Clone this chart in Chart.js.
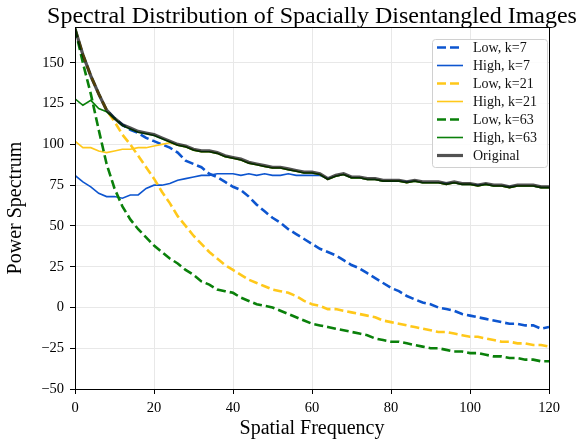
<!DOCTYPE html>
<html>
<head>
<meta charset="utf-8">
<script src="https://cdn.jsdelivr.net/npm/chart.js@4"></script>
<style>
  html, body { margin: 0; padding: 0; background: #fff; }
  #wrap { width: 578px; height: 441px; }
</style>
</head>
<body>
<div id="wrap"><canvas id="chart" width="578" height="441"></canvas></div>
<script>
// spatial frequency samples
const freqs = [0,2,4,6,8,10,12,14,16,18,20,22,24,26,28,30,32,34,36,38,40,
  42,44,46,48,50,52,54,56,58,60,62,64,66,68,70,72,74,76,78,80,
  82,84,86,88,90,92,94,96,98,100,102,104,106,108,110,112,114,116,118,120];

const lowK7 = [171,155,142,131,121,116,112,109,107,104,102,100,98,95,90,88,86,82,80,77,74,
  72,68,63,59,55,52,48,45,42,39,36,34,32,29,26,24,21,18,15,12,
  10,7,5,3,2,0,-1,-2,-4,-5,-6,-7,-8,-9,-10,-10,-11,-11,-13,-12];
const highK7 = [81,77,74,70,68,68,67,69,69,73,75,75,76,78,79,80,81,81,82,82,82,
  81,82,81,82,81,81,82,81,81,81,81,79,80.5,81.5,79.5,79.5,78.5,78.5,77.5,77.5,
  77.5,77,77.5,76.5,76.5,76.5,76,76.5,75.5,75.5,75,75.5,74.5,74.5,74,74.5,74.5,74.5,73.5,73.5];
const lowK21 = [171,155,142,131,121,114,106,100,93,86,79,71,64,56,50,44,39,34,30,26,23,
  20,17,15,13,11,10,9,7,4,2,1,-1,-1,-2,-3,-4,-5,-6,-8,-9,
  -10,-11,-12,-13,-14,-15,-15,-16,-17,-18,-18,-19,-20,-21,-21,-22,-22,-23,-23,-24];
const highK21 = [102,98,98,96,95,96,97,97,98,98,99,100,101,99.5,98.5,96.5,95.5,95.5,94.5,92.5,91.5,
  90.5,88.5,87.5,86.5,85.5,85.5,84.5,83.5,82.5,82.5,81.5,78.5,80.5,81.5,79.5,79.5,78.5,78.5,77.5,77.5,
  77.5,76.5,77.5,76.5,76.5,76.5,75.5,76.5,75.5,75.5,74.5,75.5,74.5,74.5,73.5,74.5,74.5,74.5,73.5,73.5];
const lowK63 = [171,150,131,109,88,73,62,54,48,43,38,34,30,27,23,20,16,14,11,10,9,
  6,4,2,1,0,-2,-4,-6,-8,-10,-11,-12,-13,-14,-15,-16,-17,-19,-20,-21,
  -21,-22,-23,-24,-25,-25,-26,-27,-27,-28,-28,-29,-30,-30,-31,-31,-32,-32,-33,-33];
const highK63 = [128,124,127,122,120,116,111.5,109.5,107.5,106.5,105.5,103.5,101.5,99.5,98.5,96.5,95.5,95.5,94.5,92.5,91.5,
  90.5,88.5,87.5,86.5,85.5,85.5,84.5,83.5,82.5,82.5,81.5,78.5,80.5,81.5,79.5,79.5,78.5,78.5,77.5,77.5,
  77.5,76.5,77.5,76.5,76.5,76.5,75.5,76.5,75.5,75.5,74.5,75.5,74.5,74.5,73.5,74.5,74.5,74.5,73.5,73.5];
const original = [171,155,142,131,121,116,112,110,108,107,106,104,102,100,99,97,96,96,95,93,92,
  91,89,88,87,86,86,85,84,83,83,82,79,81,82,80,80,79,79,78,78,
  78,77,78,77,77,77,76,77,76,76,75,76,75,75,74,75,75,75,74,74];

const xTicks = [0, 20, 40, 60, 80, 100, 120];
const yTicks = [-50, -25, 0, 25, 50, 75, 100, 125, 150];
const chartTitle = 'Spectral Distribution of Spacially Disentangled Images';

const BLUE = '#0d55cf';
const GOLD = '#ffc81a';
const GREEN = '#0a800a';
const SERIF = '"Liberation Serif", "DejaVu Serif", serif';

function pts(vals) {
  return freqs.map((f, i) => ({ x: f, y: vals[i] }));
}

const dashed = [9, 4];
const datasets = [
  { label: 'Low, k=7', data: pts(lowK7), borderColor: BLUE, borderWidth: 2.6, borderDash: dashed, order: 6 },
  { label: 'High, k=7', data: pts(highK7), borderColor: BLUE, borderWidth: 1.6, order: 5 },
  { label: 'Low, k=21', data: pts(lowK21), borderColor: GOLD, borderWidth: 2.6, borderDash: dashed, order: 4 },
  { label: 'High, k=21', data: pts(highK21), borderColor: GOLD, borderWidth: 1.6, order: 3 },
  { label: 'Low, k=63', data: pts(lowK63), borderColor: GREEN, borderWidth: 2.6, borderDash: dashed, order: 2 },
  { label: 'High, k=63', data: pts(highK63), borderColor: GREEN, borderWidth: 1.6, order: 1 },
  { label: 'Original', data: pts(original), borderColor: 'rgba(0,0,0,0.68)', borderWidth: 3.2, order: 0 }
];
datasets.forEach(d => { d.pointRadius = 0; d.tension = 0; d.fill = false; });

// frame around the plot area (matplotlib style box) + title centred over the axes
const framePlugin = {
  id: 'frame',
  afterDatasetsDraw(chart) {
    const { ctx, chartArea: a } = chart;
    ctx.save();
    ctx.strokeStyle = '#000';
    ctx.lineWidth = 1;
    ctx.strokeRect(a.left + 0.5, a.top + 0.5, a.right - a.left, a.bottom - a.top);
    ctx.fillStyle = '#000';
    ctx.font = '24px ' + SERIF;
    ctx.textAlign = 'center';
    ctx.textBaseline = 'alphabetic';
    ctx.fillText(chartTitle, (a.left + a.right) / 2, 23);
    ctx.restore();
  }
};

// legend drawn inside the plot, upper right
const insideLegend = {
  id: 'insideLegend',
  afterDraw(chart) {
    const { ctx } = chart;
    const x0 = 432, y0 = 39, w = 115, h = 128;
    ctx.save();
    ctx.fillStyle = 'rgba(255,255,255,0.85)';
    ctx.strokeStyle = '#d0d0d0';
    ctx.lineWidth = 1;
    ctx.beginPath();
    ctx.roundRect(x0 + 0.5, y0 + 0.5, w, h, 3);
    ctx.fill();
    ctx.stroke();
    ctx.font = '14px ' + SERIF;
    ctx.textBaseline = 'middle';
    chart.data.datasets.forEach((d, i) => {
      const y = 47.5 + i * 18;
      ctx.strokeStyle = d.borderColor;
      ctx.lineWidth = d.borderWidth;
      ctx.setLineDash(d.borderDash || []);
      ctx.beginPath();
      ctx.moveTo(437, y);
      ctx.lineTo(463, y);
      ctx.stroke();
      ctx.setLineDash([]);
      ctx.fillStyle = '#111';
      ctx.fillText(d.label, 473, y + 0.5);
    });
    ctx.restore();
  }
};

new Chart(document.getElementById('chart'), {
  type: 'line',
  data: { datasets },
  options: {
    responsive: false,
    animation: false,
    layout: { padding: { left: 0, right: 29, top: 27, bottom: 0 } },
    plugins: {
      legend: { display: false },
      tooltip: { enabled: false },
      title: { display: false }
    },
    scales: {
      x: {
        type: 'linear',
        min: 0,
        max: 120,
        afterBuildTicks: s => { s.ticks = xTicks.map(v => ({ value: v })); },
        afterFit: s => { s.height = 52; },
        ticks: { color: '#000', font: { family: SERIF, size: 14.5 }, padding: 5, maxRotation: 0 },
        grid: { color: '#e8e8e8', tickColor: '#000', tickLength: 5 },
        border: { color: '#000' },
        title: { display: true, text: 'Spatial Frequency', color: '#000', font: { family: SERIF, size: 20 }, padding: { top: 0, bottom: 0 } }
      },
      y: {
        min: -50,
        max: 172,
        afterBuildTicks: s => { s.ticks = yTicks.map(v => ({ value: v })); },
        afterFit: s => { s.width = 75; },
        ticks: { color: '#000', font: { family: SERIF, size: 14.5 }, padding: 6,
          callback: v => (v < 0 ? '\u2212' + Math.abs(v) : String(v)) },
        grid: { color: '#e8e8e8', tickColor: '#000', tickLength: 5 },
        border: { color: '#000' },
        title: { display: true, text: 'Power Spectrum', color: '#000', font: { family: SERIF, size: 20 }, padding: { top: 4, bottom: 6 } }
      }
    }
  },
  plugins: [framePlugin, insideLegend]
});
</script>
</body>
</html>
